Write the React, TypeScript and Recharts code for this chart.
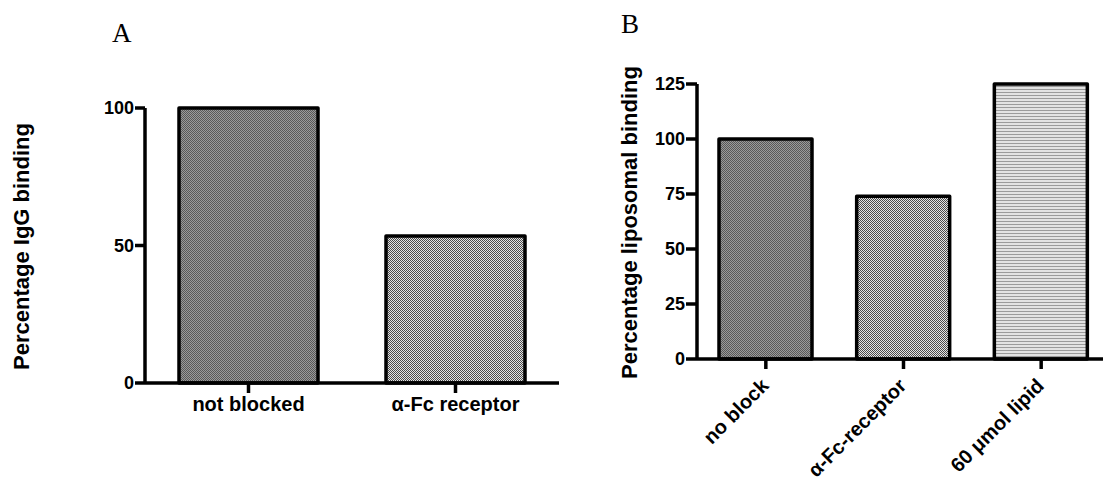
import React from 'react';
import { BarChart, Bar, XAxis, YAxis, Cell } from 'recharts';

// Panel A: IgG binding
const igGroups = ['not blocked', 'α-Fc receptor'];
const igBinding = [100, 53.5];
const igTicks = [0, 50, 100];

// Panel B: liposomal binding
const lipoGroups = ['no block', 'α-Fc-receptor', '60 μmol lipid'];
const lipoBinding = [100, 74, 125];
const lipoTicks = [0, 25, 50, 75, 100, 125];

const SANS = '"Liberation Sans", Arial, sans-serif';
const SERIF = '"Liberation Serif", "Times New Roman", serif';

const igData = igGroups.map((name, i) => ({ name, value: igBinding[i] }));
const lipoData = lipoGroups.map((name, i) => ({ name, value: lipoBinding[i] }));

const Patterns = ({ prefix }: { prefix: string }) => (
  <defs>
    <pattern id={`${prefix}-dark`} width={2} height={2} patternUnits="userSpaceOnUse">
      <rect width={2} height={2} fill="#9a9a9a" />
      <rect width={1} height={1} fill="#585858" />
      <rect x={1} y={1} width={1} height={1} fill="#585858" />
    </pattern>
    <pattern id={`${prefix}-light`} width={2} height={2} patternUnits="userSpaceOnUse">
      <rect width={2} height={2} fill="#e4e4e4" />
      <rect width={1} height={1} fill="#4a4a4a" />
      <rect x={1} y={1} width={1} height={1} fill="#4a4a4a" />
    </pattern>
    <pattern id={`${prefix}-stripe`} width={3} height={3} patternUnits="userSpaceOnUse">
      <rect width={3} height={3} fill="#e2e2e2" />
      <rect y={2} width={3} height={1} fill="#9a9a9a" />
    </pattern>
  </defs>
);

const axisStroke = { stroke: '#000', strokeWidth: 3.5 };

const yTitle = (text: string, dx: number, dy: number) => (props: any) => {
  const vb = props.viewBox || { x: 0, y: 0, width: 0, height: 0 };
  const x = vb.x + dx;
  const y = vb.y + vb.height / 2 + dy;
  return (
    <text
      x={x}
      y={y}
      transform={`rotate(-90 ${x} ${y})`}
      textAnchor="middle"
      fontFamily={SANS}
      fontWeight={700}
      fontSize={22}
      fill="#000"
    >
      {text}
    </text>
  );
};

const SlantTick = (props: any) => {
  const { x, y, payload } = props;
  return (
    <g transform={`translate(${x},${y})`}>
      <text
        x={4}
        y={18}
        transform="rotate(-45 4 18)"
        textAnchor="end"
        fontFamily={SANS}
        fontWeight={700}
        fontSize={20}
        fill="#000"
      >
        {payload.value}
      </text>
    </g>
  );
};

export default function App() {
  return (
    <div style={{ position: 'absolute', left: 0, top: 0, width: 1103, height: 485, overflow: 'hidden', background: '#fff' }}>
      <div style={{ position: 'absolute', left: 0, top: 0 }}>
        <BarChart width={560} height={440} data={igData} margin={{ top: 108, right: 1, bottom: 0, left: 0 }}>
          <Patterns prefix="ig" />
          <XAxis
            dataKey="name"
            interval={0}
            height={57}
            tickSize={10}
            tickMargin={4}
            axisLine={axisStroke}
            tickLine={axisStroke}
            tick={{ fill: '#000', fontSize: 20, fontWeight: 700, fontFamily: SANS }}
          />
          <YAxis
            width={145}
            domain={[0, 100]}
            ticks={igTicks}
            tickSize={10}
            tickMargin={1}
            axisLine={axisStroke}
            tickLine={axisStroke}
            tick={{ fill: '#000', fontSize: 18, fontWeight: 700, fontFamily: SANS }}
            label={yTitle('Percentage IgG binding', 29, 1)}
          />
          <Bar dataKey="value" barSize={139} stroke="#000" strokeWidth={3.5} strokeLinejoin="round" isAnimationActive={false}>
            <Cell fill="url(#ig-dark)" />
            <Cell fill="url(#ig-light)" />
          </Bar>
        </BarChart>
      </div>
      <div style={{ position: 'absolute', left: 560, top: 0 }}>
        <BarChart width={560} height={485} data={lipoData} margin={{ top: 84, right: 10, bottom: 0, left: 0 }}>
          <Patterns prefix="lp" />
          <XAxis
            dataKey="name"
            interval={0}
            height={126}
            tickSize={10}
            tickMargin={0}
            axisLine={axisStroke}
            tickLine={axisStroke}
            tick={<SlantTick />}
          />
          <YAxis
            width={137}
            domain={[0, 125]}
            ticks={lipoTicks}
            tickSize={11}
            tickMargin={1}
            axisLine={axisStroke}
            tickLine={axisStroke}
            tick={{ fill: '#000', fontSize: 18, fontWeight: 700, fontFamily: SANS }}
            label={yTitle('Percentage liposomal binding', 77, 1)}
          />
          <Bar dataKey="value" barSize={93} stroke="#000" strokeWidth={3.5} strokeLinejoin="round" isAnimationActive={false}>
            <Cell fill="url(#lp-dark)" />
            <Cell fill="url(#lp-light)" />
            <Cell fill="url(#lp-stripe)" />
          </Bar>
        </BarChart>
      </div>
      <svg width={1103} height={60} style={{ position: 'absolute', left: 0, top: 0, pointerEvents: 'none' }}>
        <text x={112} y={42} fontFamily={SERIF} fontSize={27} fill="#000">A</text>
        <text x={621} y={33} fontFamily={SERIF} fontSize={27} fill="#000">B</text>
      </svg>
    </div>
  );
}
